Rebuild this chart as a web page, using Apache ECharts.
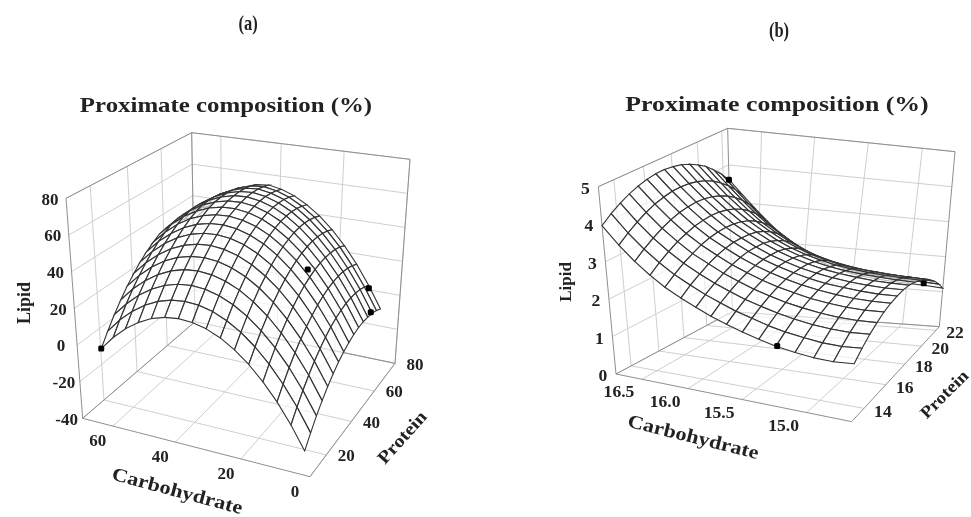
<!DOCTYPE html>
<html><head><meta charset="utf-8"><style>html,body{margin:0;background:#fff}#c{width:971px;height:517px}</style>
<script src="https://cdn.jsdelivr.net/npm/echarts@6/dist/echarts.min.js"></script></head><body><div id="c"></div>
<script>
const carbA=[4,8.13,12.27,16.4,20.53,24.67,28.8,32.93,37.07,41.2,45.33,49.47,53.6,57.73,61.87,66];
const protA=[14,18,22,26,30,34,38,42,46,50,54,58,62,66,70,74];
const lipidA=[
[-34.3,-22.8,-12.6,-3.9,3.5,9.6,14.3,17.6,19.5,20.1,19.3,17.2,13.6,8.8,2.5,-5.1],
[-28.6,-17.0,-6.8,2.1,9.5,15.7,20.4,23.8,25.8,26.4,25.7,23.6,20.1,15.3,9.1,1.5],
[-23.3,-11.7,-1.4,7.5,15.0,21.2,26.0,29.4,31.5,32.2,31.5,29.5,26.1,21.3,15.1,7.7],
[-18.7,-7.0,3.3,12.3,19.9,26.1,31.0,34.5,36.6,37.4,36.8,34.8,31.4,26.7,20.7,13.2],
[-14.6,-2.8,7.6,16.6,24.3,30.6,35.5,39.0,41.2,42.0,41.5,39.6,36.3,31.7,25.6,18.3],
[-11.0,0.8,11.3,20.4,28.1,34.4,39.4,43.0,45.3,46.2,45.7,43.8,40.6,36.0,30.1,22.7],
[-7.9,3.9,14.4,23.6,31.4,37.8,42.8,46.5,48.8,49.7,49.3,47.5,44.4,39.8,33.9,26.7],
[-5.5,6.5,17.1,26.3,34.1,40.6,45.7,49.4,51.8,52.8,52.4,50.7,47.6,43.1,37.3,30.1],
[-3.5,8.5,19.1,28.4,36.3,42.8,48.0,51.8,54.2,55.3,55.0,53.3,50.3,45.9,40.1,32.9],
[-2.1,9.9,20.7,30.0,37.9,44.5,49.7,53.6,56.1,57.2,57.0,55.4,52.4,48.1,42.3,35.3],
[-1.2,10.9,21.6,31.0,39.0,45.7,51.0,54.9,57.4,58.6,58.3,56.6,53.6,49.1,43.3,36.2],
[-0.9,11.2,22.1,31.5,39.6,46.3,51.7,55.6,58.2,59.5,59.1,57.2,54.0,49.4,43.5,36.2],
[-1.2,11.1,22.0,31.5,39.6,46.4,51.8,55.8,58.5,59.8,59.3,57.3,53.9,49.2,43.1,35.6],
[-1.9,10.4,21.3,30.9,39.1,45.9,51.4,55.5,58.2,59.6,59.0,56.8,53.3,48.4,42.1,34.5],
[-3.2,9.1,20.1,29.8,38.0,44.9,50.4,54.6,57.4,58.8,58.1,55.8,52.1,47.1,40.6,32.9],
[-5.1,7.3,18.4,28.1,36.4,43.4,48.9,53.2,56.0,57.5,56.7,54.2,50.4,45.2,38.6,30.7]];
const carbB=[14.7,14.84,14.98,15.12,15.27,15.41,15.55,15.69,15.83,15.97,16.11,16.26,16.4,16.54,16.68,16.82];
const protB=[13,13.63,14.27,14.9,15.53,16.17,16.8,17.43,18.07,18.7,19.33,19.97,20.6,21.23,21.87,22.5];
const lipidB=[
[1.40,1.36,1.37,1.42,1.49,1.59,1.70,1.83,1.97,2.14,2.32,2.54,2.80,3.11,3.49,3.96],
[1.60,1.56,1.57,1.62,1.69,1.78,1.90,2.02,2.17,2.33,2.52,2.74,3.00,3.31,3.69,4.16],
[1.77,1.74,1.75,1.79,1.86,1.95,2.06,2.18,2.33,2.49,2.68,2.91,3.17,3.48,3.86,4.32],
[1.90,1.88,1.89,1.93,2.00,2.08,2.19,2.31,2.46,2.62,2.82,3.04,3.31,3.62,4.00,4.45],
[2.01,1.99,2.00,2.04,2.10,2.19,2.29,2.41,2.56,2.72,2.92,3.15,3.41,3.73,4.11,4.55],
[2.08,2.07,2.08,2.12,2.18,2.26,2.36,2.48,2.62,2.79,2.99,3.22,3.49,3.81,4.18,4.62],
[2.12,2.11,2.13,2.17,2.22,2.30,2.40,2.52,2.66,2.83,3.03,3.26,3.53,3.85,4.23,4.66],
[2.14,2.13,2.15,2.18,2.24,2.31,2.40,2.52,2.66,2.83,3.03,3.27,3.55,3.87,4.24,4.67],
[2.12,2.12,2.13,2.17,2.22,2.29,2.38,2.50,2.64,2.81,3.01,3.25,3.53,3.85,4.22,4.64],
[2.06,2.07,2.09,2.12,2.17,2.23,2.32,2.44,2.58,2.75,2.96,3.20,3.48,3.80,4.17,4.59],
[1.98,1.99,2.01,2.04,2.09,2.15,2.24,2.35,2.49,2.66,2.87,3.12,3.40,3.72,4.09,4.50],
[1.87,1.88,1.90,1.93,1.97,2.03,2.12,2.23,2.37,2.54,2.75,3.00,3.29,3.61,3.98,4.38],
[1.72,1.74,1.76,1.79,1.83,1.89,1.97,2.08,2.22,2.39,2.60,2.85,3.14,3.47,3.83,4.24],
[1.55,1.57,1.59,1.62,1.65,1.71,1.79,1.89,2.03,2.21,2.43,2.68,2.97,3.30,3.66,4.05],
[1.34,1.37,1.39,1.41,1.45,1.50,1.57,1.68,1.82,2.00,2.21,2.47,2.76,3.09,3.45,3.84],
[1.10,1.14,1.16,1.18,1.21,1.26,1.33,1.43,1.57,1.75,1.97,2.23,2.53,2.86,3.22,3.60]];
const dotsA=[[66,14,-5],[19,51,28.5],[7.7,73,6.5],[3.5,63,1]];
const dotsB=[[16.82,22.5,3.6],[15.26,13,1.5],[14.86,22.5,1.2]];
const carbTicksA=[0,20,40,60],protTicksA=[20,40,60,80],lipTicksA=[-40,-20,0,20,40,60,80];
const carbTicksB=[15,15.5,16,16.5],protTicksB=[14,16,18,20,22],lipTicksB=[0,1,2,3,4,5];

const serif='"Liberation Serif","Times New Roman",serif';
function homog(p0,p1,p2,p3){
 const [x0,y0]=p0,[x1,y1]=p1,[x2,y2]=p2,[x3,y3]=p3;
 const dx1=x1-x2,dx2=x3-x2,sx=x0-x1+x2-x3,dy1=y1-y2,dy2=y3-y2,sy=y0-y1+y2-y3;
 const den=dx1*dy2-dx2*dy1,g=(sx*dy2-dx2*sy)/den,h=(dx1*sy-sx*dy1)/den;
 const a=x1-x0+g*x1,b=x3-x0+h*x3,d=y1-y0+g*y1,e=y3-y0+h*y3;
 return (u,v)=>{const w=g*u+h*v+1;return [(a*u+b*v+x0)/w,(d*u+e*v+y0)/w];};
}
function zc(x,y){return [50+x/3,90+y/3];}
function zcb(x,y){return [540+x/3,90+y/3];}
const cfgA={c:[0,70],p:[8,80],z:[-40,80],
 floor:homog(zc(780,1160),zc(98,985),zc(435,695),zc(1035,820)),
 top:homog(zc(805,441),zc(48,325),zc(425,128),zc(1080,208)),
 carbOff:[-15,16],protOff:[20,2],lipOff:[-16,2],
 carb:carbA,prot:protA,lip:lipidA,dots:dotsA,ct:carbTicksA,pt:protTicksA,lt:lipTicksA,fs:17,sx:1,dec:0};
const cfgB={c:[14.7,16.82],p:[13,22.5],z:[0,5],
 floor:homog(zcb(935,995),zcb(228,852),zcb(577,665),zcb(1198,710)),
 top:homog(zcb(961,375),zcb(175,290),zcb(563,115),zcb(1245,185)),
 carbOff:[-23,14],protOff:[19,4],lipOff:[-13,3],
 carb:carbB,prot:protB,lip:lipidB,dots:dotsB,ct:carbTicksB,pt:protTicksB,lt:lipTicksB,fs:16,sx:1.1,dec:1};
function project(cf,c,p,z){
 const u=(c-cf.c[0])/(cf.c[1]-cf.c[0]),v=(p-cf.p[0])/(cf.p[1]-cf.p[0]),t=(z-cf.z[0])/(cf.z[1]-cf.z[0]);
 const a=cf.floor(u,v),b=cf.top(u,v);return [a[0]+t*(b[0]-a[0]),a[1]+t*(b[1]-a[1])];
}
function panel(cf){
 const out=[];
 const [c0,c1]=cf.c,[p0,p1]=cf.p,[z0,z1]=cf.z;
 const segs=[];
 const G='#cfcfcf',F='#8f8f8f';
 cf.ct.forEach(c=>{segs.push([c,p0,z0,c,p1,z0,G],[c,p1,z0,c,p1,z1,G]);});
 cf.pt.forEach(p=>{segs.push([c1,p,z0,c0,p,z0,G],[c1,p,z0,c1,p,z1,G]);});
 cf.lt.forEach(z=>{segs.push([c1,p0,z,c1,p1,z,G],[c1,p1,z,c0,p1,z,G]);});
 [[c0,p0,z0,c1,p0,z0],[c0,p0,z0,c0,p1,z0],[c1,p0,z0,c1,p1,z0],[c1,p1,z0,c0,p1,z0],[c1,p0,z0,c1,p0,z1],[c1,p1,z0,c1,p1,z1],[c0,p1,z0,c0,p1,z1],[c1,p0,z1,c1,p1,z1],[c1,p1,z1,c0,p1,z1]].forEach(s=>segs.push([...s,F]));
 out.push({type:'custom',coordinateSystem:'cartesian2d',silent:true,clip:false,data:segs.map((s,i)=>[i]),z:1,
  renderItem(pa,api){const s=segs[api.value(0)];const a=api.coord(project(cf,s[0],s[1],s[2])),b=api.coord(project(cf,s[3],s[4],s[5]));
   return {type:'line',shape:{x1:a[0],y1:a[1],x2:b[0],y2:b[1]},style:{stroke:s[6],lineWidth:1}};}});
 const quads=[];
 for(let j=0;j<cf.prot.length-1;j++)for(let i=0;i<cf.carb.length-1;i++)quads.push([i,j]);
 quads.sort((a,b)=>(b[0]+b[1])-(a[0]+a[1]));
 out.push({type:'custom',coordinateSystem:'cartesian2d',silent:true,clip:false,data:quads,z:2,
  renderItem(pa,api){const i=api.value(0),j=api.value(1);
   const pt=(I,J)=>api.coord(project(cf,cf.carb[I],cf.prot[J],cf.lip[J][I]));
   return {type:'polygon',shape:{points:[pt(i,j),pt(i+1,j),pt(i+1,j+1),pt(i,j+1)]},style:{fill:'rgba(255,255,255,0.65)',stroke:'#333',lineWidth:1.1}};}});
 out.push({type:'custom',coordinateSystem:'cartesian2d',silent:true,clip:false,data:cf.dots,z:3,
  renderItem(pa,api){const q=api.coord(project(cf,api.value(0),api.value(1),api.value(2)));
   return {type:'rect',shape:{x:q[0]-3,y:q[1]-3,width:6,height:6,r:1.5},style:{fill:'#000'}};}});
 const labs=[];
 const fmt=v=>cf.dec?v.toFixed(cf.dec):String(v);
 cf.ct.forEach(c=>{const q=project(cf,c,p0,z0);labs.push([q[0]+cf.carbOff[0],q[1]+cf.carbOff[1],fmt(c)]);});
 cf.pt.forEach(p=>{const q=project(cf,c0,p,z0);labs.push([q[0]+cf.protOff[0],q[1]+cf.protOff[1],String(p)]);});
 cf.lt.forEach(z=>{const q=project(cf,c1,p0,z);labs.push([q[0]+cf.lipOff[0],q[1]+cf.lipOff[1],String(z)]);});
 out.push({type:'custom',coordinateSystem:'cartesian2d',silent:true,clip:false,data:labs.map((l,i)=>[l[0],l[1],i]),z:4,
  renderItem(pa,api){const q=api.coord([api.value(0),api.value(1)]);
   return {type:'text',x:q[0],y:q[1],scaleX:cf.sx,style:{text:labs[api.value(2)][2],fontFamily:serif,fontWeight:'bold',fontSize:cf.fs,fill:'#222',align:'center',verticalAlign:'middle'}};}});
 return out;
}
const ch=echarts.init(document.getElementById('c'),null,{renderer:'canvas'});
const name=(t,x,y,deg,fs,sx)=>({type:'text',x,y,rotation:deg*Math.PI/180,scaleX:sx||1,style:{text:t,fontFamily:serif,fontWeight:'bold',fontSize:fs,fill:'#222',align:'center',verticalAlign:'middle'}});
ch.setOption({animation:false,backgroundColor:'#fff',
 grid:{left:0,right:0,top:0,bottom:0},
 xAxis:{type:'value',min:0,max:971,show:false},yAxis:{type:'value',min:0,max:517,inverse:true,show:false},
 graphic:{elements:[
  name('Proximate composition (%)',226,106,0,22,1.13),name('Proximate composition (%)',777,106,0,20,1.29),
  name('(a)',248,24,0,22,.75),name('(b)',779,31,0,22,.75),
  name('Lipid',25,303,90,18),name('Protein',403,438,48,18,1.13),name('Carbohydrate',177,492,-15,19,1.17),
  name('Lipid',567,282,90,17),name('Protein',945,395,45,17,1.13),name('Carbohydrate',693,438,-14,19,1.17)]},
 series:[...panel(cfgA),...panel(cfgB)]});
</script></body></html>
